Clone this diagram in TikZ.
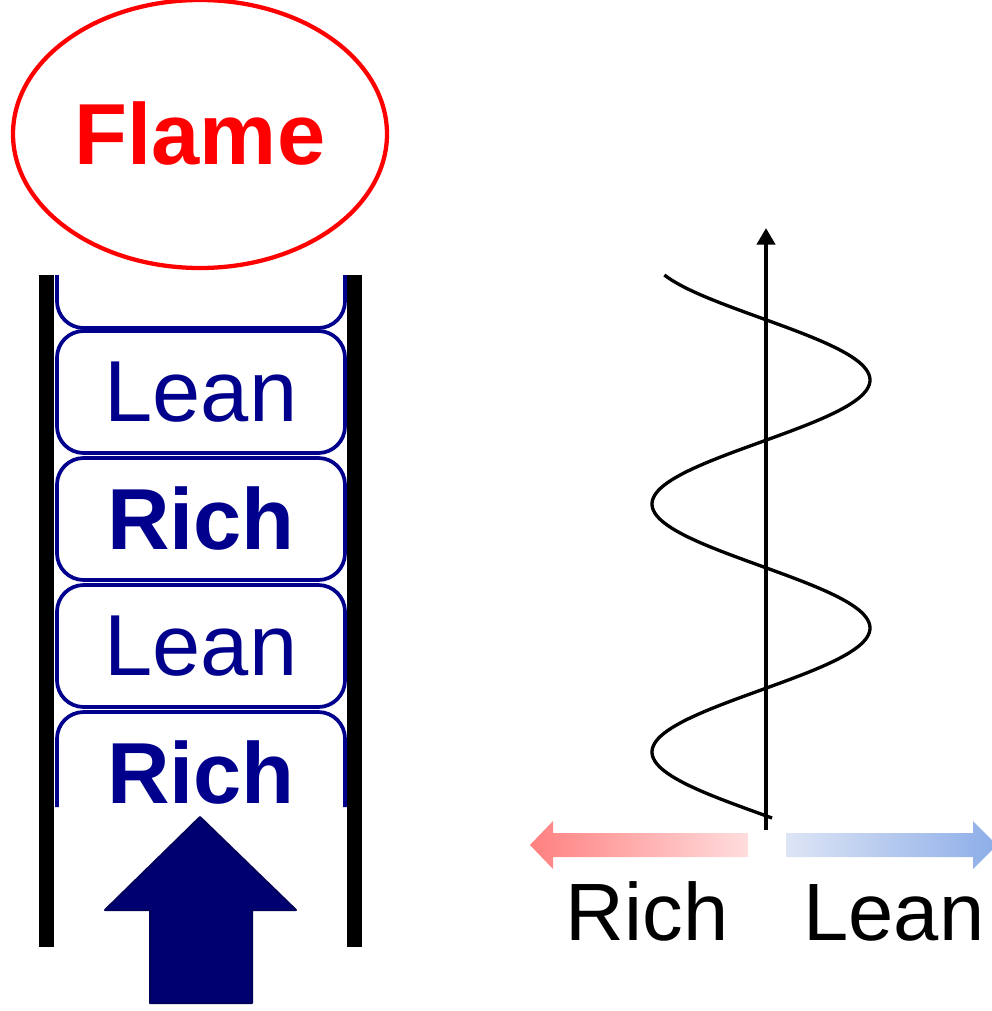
\documentclass[tikz,border=0pt]{standalone}
\usepackage{fontspec}
\setmainfont{Liberation Sans}
\usetikzlibrary{shapes.geometric,arrows.meta}
\definecolor{boxblue}{RGB}{0,0,140}
\definecolor{arrfill}{RGB}{0,0,112}
\definecolor{arrdraw}{RGB}{0,0,90}
\definecolor{redA}{RGB}{255,128,128}
\definecolor{redB}{RGB}{255,221,221}
\definecolor{bluA}{RGB}{221,229,245}
\definecolor{bluB}{RGB}{141,173,232}
\tikzset{
  layerbox/.style={draw=boxblue, line width=2.8pt, rounded corners=20pt, minimum width=216pt, minimum height=91.5pt, inner sep=0pt, text=boxblue},
  openbox/.style={draw=boxblue, line width=2.8pt, rounded corners=20pt},
  bigfont/.style={font=\fontsize{65}{70}\selectfont},
  wall/.style={line width=11pt},
}
\begin{document}
\begin{tikzpicture}[x=0.75pt,y=-0.75pt]
\useasboundingbox (0,0) rectangle (992,1011);
% flame
\node (flame) [ellipse, draw=red, line width=3.2pt, minimum width=280.5pt, minimum height=201pt, inner sep=0pt, text=red, font=\fontsize{65}{70}\selectfont\bfseries] at (200,134) {Flame};
% walls
\coordinate (lw0) at (46.5,275); \coordinate (lw1) at (46.5,947);
\coordinate (rw0) at (354.5,275); \coordinate (rw1) at (354.5,947);
\draw[wall] (lw0) -- (lw1);
\draw[wall] (rw0) -- (rw1);
% top partial box
\draw[openbox] (57,275) -- (57,328) -- (345,328) -- (345,275);
% boxes
\node (b1) [layerbox, bigfont] at (201,392) {Lean};
\node (b2) [layerbox, font=\fontsize{65}{70}\selectfont\bfseries] at (201,519) {Rich};
\node (b3) [layerbox, bigfont] at (201,646) {Lean};
\draw[openbox] (57,807) -- (57,712) -- (345,712) -- (345,807);
\node (b4) [text=boxblue, inner sep=0pt, font=\fontsize{65}{70}\selectfont\bfseries] at (201,773) {Rich};
% big arrow
\filldraw[fill=arrfill, draw=arrdraw, line width=1.5pt, line join=round] (200,817) -- (296,910) -- (252,910) -- (252,1003) -- (150,1003) -- (150,910) -- (105,910) -- cycle;
% axis
\coordinate (ax0) at (766,830); \coordinate (ax1) at (766,228);
\draw[line width=3.5pt, -{Triangle[length=12.5pt,width=13.5pt]}] (ax0) -- (ax1);
% wave
\draw[line width=2.5pt] plot[domain=275:818, samples=220, variable=\t] ({761+109*sin(1.451613*(\t-318))},\t);
% gradient arrows
\shade[left color=redA, right color=redB] (530,845) -- (553,821) -- (553,833) -- (748,833) -- (748,857) -- (553,857) -- (553,869) -- cycle;
\shade[left color=bluA, right color=bluB] (786,833) -- (973,833) -- (973,821) -- (997,845) -- (973,869) -- (973,857) -- (786,857) -- cycle;
% labels
\node (lr) [anchor=base, inner sep=0pt, font=\fontsize{61}{66}\selectfont] at (647,940) {Rich};
\node (ll) [anchor=base, inner sep=0pt, font=\fontsize{61}{66}\selectfont] at (894,940) {Lean};
\end{tikzpicture}
\end{document}
